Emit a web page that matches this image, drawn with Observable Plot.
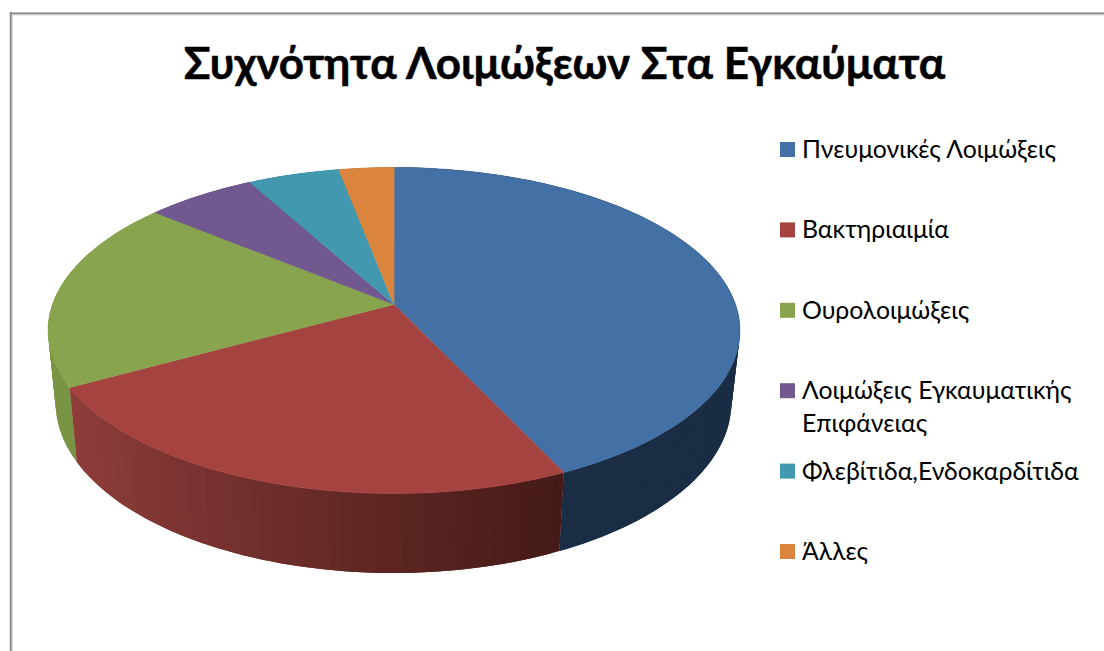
<!DOCTYPE html>
<html lang="el">
<head>
<meta charset="utf-8">
<title>Συχνότητα Λοιμώξεων Στα Εγκαύματα</title>
<script src="https://cdn.jsdelivr.net/npm/d3@7"></script>
<script src="https://cdn.jsdelivr.net/npm/@observablehq/plot@0.6"></script>
<style>
  html, body { margin: 0; background: #fff; }
  svg { display: block; }
</style>
</head>
<body>
<div id="chart"></div>
<script>
// Share of infections in burn patients, percent
const chartTitle = "Συχνότητα Λοιμώξεων Στα Εγκαύματα";
const categories = [
  "Πνευμονικές Λοιμώξεις",
  "Βακτηριαιμία",
  "Ουρολοιμώξεις",
  "Λοιμώξεις Εγκαυματικής\nΕπιφάνειας",
  "Φλεβίτιδα,Ενδοκαρδίτιδα",
  "Άλλες"
];
const shares = [43, 24, 19, 6, 5, 3];
const topColors = ["#4471a5", "#a54340", "#89a44e", "#71588f", "#4198af", "#db843d"];
const sideStart = ["#1a2d45", "#8f3d3a", "#7a9445", "#4f3e66", "#2e6b7c", "#9a5d2b"];
const sideEnd = ["#1a2d45", "#441a17", "#7a9445", "#4f3e66", "#2e6b7c", "#9a5d2b"];

// Perspective model of the disc: u to the right, v toward the viewer
const lean = 0.1595;
const rim = {cx: 393.5, cy: 304, rx: 341.5, ry: 158.9};
const base = {cx: 393, cy: 375, rx: 333.5, ry: 166};
const toPlane = (turn, plane) => {
  const u = Math.sin(turn), v = -Math.cos(turn), w = 1 - lean * v;
  return {x: plane.cx + plane.rx * u / w, y: plane.cy + plane.ry * v / w};
};

const total = d3.sum(shares);
const cuts = d3.cumsum(shares).map((s) => (s / total) * 2 * Math.PI);
const slices = shares.map((s, i) => ({i, start: i ? cuts[i - 1] : 0, end: cuts[i]}));
const step = (1.5 * Math.PI) / 180;

const arcTurns = ({start, end}) => {
  const n = Math.max(1, Math.ceil((end - start) / step));
  return d3.range(n + 1).map((k) => start + ((end - start) * k) / n);
};

// Upper face: one wedge per slice
const wedges = slices.flatMap((s) => [
  {id: s.i, color: topColors[s.i], x: rim.cx, y: rim.cy},
  ...arcTurns(s).map((t) => ({id: s.i, color: topColors[s.i], ...toPlane(t, rim)}))
]);

// Outer wall: slices from back to front; each band runs one step past its
// own end so that the next band paints over the join and leaves no seam
const wallOrder = d3.sort(slices, (s) => -Math.cos((s.start + s.end) / 2));
const wall = wallOrder.flatMap((s) => {
  const turns = arcTurns(s);
  const shade = d3.interpolateRgb(sideStart[s.i], sideEnd[s.i]);
  const lo = d3.min(turns, Math.sin);
  const hi = d3.max(turns, Math.sin);
  return turns.slice(0, -1).flatMap((t0, k) => {
    const t1 = turns[k + 1];
    const tEnd = turns[Math.min(k + 2, turns.length - 1)];
    const color = shade(hi > lo ? (Math.sin((t0 + t1) / 2) - lo) / (hi - lo) : 0);
    const id = `${s.i}-${k}`;
    const along = k + 2 < turns.length ? [t0, t1, tEnd] : [t0, t1];
    return [
      ...along.map((t) => toPlane(t, rim)),
      ...along.slice().reverse().map((t) => toPlane(t, base))
    ].map((p) => ({id, color, ...p}));
  });
});

// Legend rows, the long label wraps onto a second line
const legendX = 780, legendTextX = 801.5, legendTop = 149.5, legendGap = 80.4, wrapGap = 33;
const legendSwatches = categories.map((c, i) => ({
  x1: legendX, x2: legendX + 15, y1: legendTop + i * legendGap - 7.5, y2: legendTop + i * legendGap + 7.5, color: topColors[i]
}));
const legendLines = categories.flatMap((c, i) =>
  c.split("\n").map((line, k) => ({line, x: legendTextX, y: legendTop + i * legendGap + k * wrapGap}))
);

const fontFamily = "Lato, 'Open Sans', sans-serif";

const chart = Plot.plot({
  width: 1104,
  height: 651,
  margin: 0,
  x: {domain: [0, 1104], range: [0, 1104], axis: null},
  y: {domain: [0, 651], range: [0, 651], axis: null},
  color: {type: "identity"},
  marks: [
    // Chart-area border, open on the right and at the bottom
    Plot.ruleY([13], {x1: 10, x2: 1104, stroke: "#868686", strokeWidth: 2}),
    Plot.ruleY([14.5], {x1: 11, x2: 1104, stroke: "#d9d9d9", strokeWidth: 1}),
    Plot.ruleX([10.3], {y1: 12, y2: 651, stroke: "#868686", strokeWidth: 2}),
    Plot.ruleX([11.8], {y1: 14, y2: 651, stroke: "#d9d9d9", strokeWidth: 1}),

    Plot.line(wall, {x: "x", y: "y", z: "id", fill: "color", stroke: "none", curve: "linear-closed"}),
    Plot.line(wedges, {x: "x", y: "y", z: "id", fill: "color", stroke: "color", strokeWidth: 0.5, curve: "linear-closed"}),

    Plot.text([chartTitle], {
      x: () => 564, y: () => 64.5, text: (d) => d,
      fontFamily, fontWeight: 700, fontSize: 44, fill: "#000", stroke: "#000", strokeWidth: 0.5, textAnchor: "middle"
    }),
    Plot.rect(legendSwatches, {x1: "x1", x2: "x2", y1: "y1", y2: "y2", fill: "color"}),
    Plot.text(legendLines, {
      x: "x", y: "y", text: "line",
      fontFamily, fontSize: 24.8, fill: "#000", textAnchor: "start"
    })
  ]
});

document.getElementById("chart").append(chart);
</script>
</body>
</html>
